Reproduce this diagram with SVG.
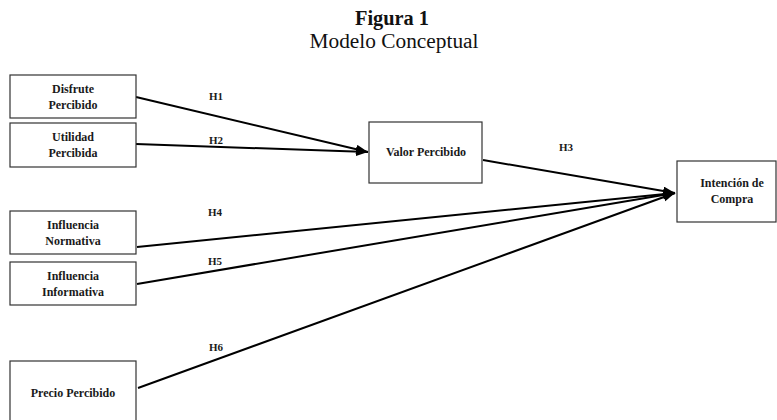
<svg xmlns="http://www.w3.org/2000/svg" width="777" height="420" viewBox="0 0 777 420">
<defs>
<style>
.box{fill:#fff;stroke:#333;stroke-width:1.2}
.nt{font-family:"Liberation Serif",serif;font-size:12px;font-weight:bold;fill:#1a1a1a;text-anchor:middle}
.lb{font-family:"Liberation Serif",serif;font-size:11px;font-weight:bold;fill:#1a1a1a;text-anchor:middle}
.edge{stroke:#000;stroke-width:2;fill:none}
.ttl{font-family:"Liberation Serif",serif;fill:#111;text-anchor:middle}
</style>
<marker id="ah" markerUnits="userSpaceOnUse" markerWidth="13" markerHeight="10" refX="12" refY="4.5" orient="auto">
<path d="M0,0 L12,4.5 L0,9 z" fill="#000"/>
</marker>
</defs>
<rect width="777" height="420" fill="#fff"/>
<g id="title">
<text class="ttl" x="392" y="25" font-size="20" font-weight="bold" textLength="74" lengthAdjust="spacingAndGlyphs">Figura 1</text>
<text class="ttl" x="394" y="48" font-size="20" textLength="169" lengthAdjust="spacingAndGlyphs">Modelo Conceptual</text>
</g>
<g id="connectors">
<line class="edge" x1="136" y1="97" x2="368" y2="152" marker-end="url(#ah)"/>
<line class="edge" x1="136" y1="144" x2="368" y2="152" marker-end="url(#ah)"/>
<line class="edge" x1="483" y1="160" x2="675" y2="193" marker-end="url(#ah)"/>
<line class="edge" x1="137" y1="247" x2="675" y2="193" marker-end="url(#ah)"/>
<line class="edge" x1="137" y1="284" x2="675" y2="193" marker-end="url(#ah)"/>
<line class="edge" x1="138" y1="388" x2="675" y2="193" marker-end="url(#ah)"/>
<text class="lb" x="216" y="100">H1</text>
<text class="lb" x="216" y="144">H2</text>
<text class="lb" x="566" y="151">H3</text>
<text class="lb" x="215" y="216">H4</text>
<text class="lb" x="215" y="265">H5</text>
<text class="lb" x="216" y="351">H6</text>
</g>
<g id="disfrute">
<rect class="box" x="10" y="75" width="126" height="43"/>
<text class="nt" x="73" y="93">Disfrute</text>
<text class="nt" x="73" y="109">Percibido</text>
</g>
<g id="utilidad">
<rect class="box" x="10" y="123" width="126" height="44"/>
<text class="nt" x="73" y="141">Utilidad</text>
<text class="nt" x="73" y="157">Percibida</text>
</g>
<g id="valor">
<rect class="box" x="369" y="122" width="113" height="61"/>
<text class="nt" x="426" y="156">Valor Percibido</text>
</g>
<g id="intencion">
<rect class="box" x="677" y="161" width="99" height="61"/>
<text class="nt" x="732" y="187">Intención de</text>
<text class="nt" x="732" y="203">Compra</text>
</g>
<g id="normativa">
<rect class="box" x="10" y="211" width="126" height="43"/>
<text class="nt" x="73" y="229">Influencia</text>
<text class="nt" x="73" y="245">Normativa</text>
</g>
<g id="informativa">
<rect class="box" x="10" y="262" width="126" height="43"/>
<text class="nt" x="73" y="280">Influencia</text>
<text class="nt" x="73" y="296">Informativa</text>
</g>
<g id="precio">
<rect class="box" x="10" y="361" width="126" height="62"/>
<text class="nt" x="73" y="397">Precio Percibido</text>
</g>
</svg>
